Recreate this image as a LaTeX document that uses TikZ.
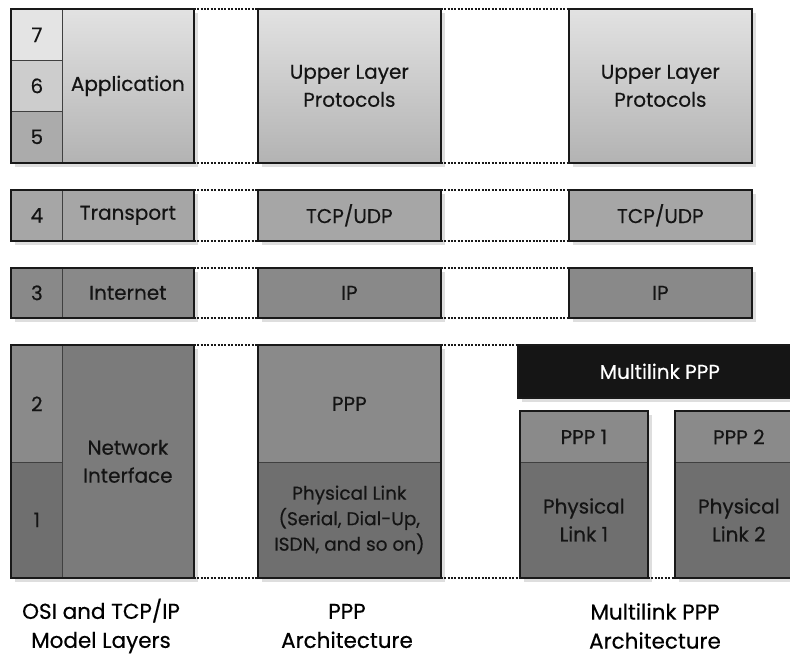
\documentclass[tikz,border=0pt]{standalone}
\usepackage{fontspec}
\setmainfont{Poppins}[FakeBold=0.4]
\usetikzlibrary{backgrounds}

\definecolor{layerA}{HTML}{E4E4E4}
\definecolor{layerB}{HTML}{CDCDCD}
\definecolor{layerC}{HTML}{ABABAB}
\definecolor{upperTop}{HTML}{E2E2E2}
\definecolor{upperBot}{HTML}{B3B3B3}
\definecolor{transFill}{HTML}{A6A6A6}
\definecolor{inetFill}{HTML}{898989}
\definecolor{linkFill}{HTML}{8A8A8A}
\definecolor{physFill}{HTML}{6F6F6F}
\definecolor{netFill}{HTML}{7B7B7B}
\definecolor{mlFill}{HTML}{151515}

\begin{document}
\begin{tikzpicture}[x=1pt,y=-1pt]
  \tikzset{cell/.style={draw=black!75,line width=0.7pt,anchor=north west,inner sep=0pt,align=center,
                        text=black!92,font=\fontsize{20}{28}\selectfont},
           upper/.style={cell,top color=upperTop,bottom color=upperBot},
           frame/.style={draw=black!90,line width=1.8pt},
           guide/.style={draw=black!90,line width=1.7pt,dash pattern=on 2pt off 1.4pt},
           caption/.style={align=center,text=black,font=\fontsize{21.5}{29}\selectfont}}

  \path[use as bounding box,clip] (0,0) rectangle (790,657);

  % OSI / TCP-IP column
  \node[cell,fill=layerA,minimum width=51pt,minimum height=51pt] (n7) at (11,9) {7};
  \node[cell,fill=layerB,minimum width=51pt,minimum height=51pt] (n6) at (11,60) {6};
  \node[cell,fill=layerC,minimum width=51pt,minimum height=51pt] (n5) at (11,111) {5};
  \node[upper,minimum width=131pt,minimum height=153pt] (app) at (62,9) {Application};
  \node[cell,fill=transFill,minimum width=51pt,minimum height=50pt] (n4) at (11,190) {4};
  \node[cell,fill=transFill,minimum width=131pt,minimum height=50pt] (trans) at (62,190) {Transport};
  \node[cell,fill=inetFill,minimum width=51pt,minimum height=49pt] (n3) at (11,268) {3};
  \node[cell,fill=inetFill,minimum width=131pt,minimum height=49pt] (inet) at (62,268) {Internet};
  \node[cell,fill=linkFill,minimum width=51pt,minimum height=117pt] (n2) at (11,345) {2};
  \node[cell,fill=physFill,minimum width=51pt,minimum height=115pt] (n1) at (11,462) {1};
  \node[cell,fill=netFill,minimum width=131pt,minimum height=232pt] (netif) at (62,345) {Network\\Interface};

  % PPP column
  \node[upper,minimum width=182pt,minimum height=153pt] (ulpA) at (258,9) {Upper Layer\\Protocols};
  \node[cell,fill=transFill,minimum width=182pt,minimum height=50pt] (tcpA) at (258,190) {TCP/UDP};
  \node[cell,fill=inetFill,minimum width=182pt,minimum height=49pt] (ipA) at (258,268) {IP};
  \node[cell,fill=linkFill,minimum width=182pt,minimum height=117pt] (pppA) at (258,345) {PPP};
  \node[cell,fill=physFill,minimum width=182pt,minimum height=115pt,
        font=\fontsize{18.5}{25.5}\selectfont] (physA) at (258,462) {Physical Link\\(Serial, Dial-Up,\\ISDN, and so on)};

  % Multilink PPP column
  \node[upper,minimum width=182pt,minimum height=153pt] (ulpB) at (569,9) {Upper Layer\\Protocols};
  \node[cell,fill=transFill,minimum width=182pt,minimum height=50pt] (tcpB) at (569,190) {TCP/UDP};
  \node[cell,fill=inetFill,minimum width=182pt,minimum height=49pt] (ipB) at (569,268) {IP};
  \node[cell,fill=mlFill,text=white,minimum width=283pt,minimum height=52pt] (mlppp) at (518,345) {Multilink PPP};
  \node[cell,fill=linkFill,minimum width=127pt,minimum height=51pt] (ppp1) at (520,411) {PPP 1};
  \node[cell,fill=physFill,minimum width=127pt,minimum height=115pt] (phys1) at (520,462) {Physical\\Link 1};
  \node[cell,fill=linkFill,minimum width=127pt,minimum height=51pt] (ppp2) at (675,411) {PPP 2};
  \node[cell,fill=physFill,minimum width=127pt,minimum height=115pt] (phys2) at (675,462) {Physical\\Link 2};

  % outer frames and their shadows
  \foreach \a/\b in {n7/app,n4/trans,n3/inet,n2/netif,ulpA/ulpA,tcpA/tcpA,ipA/ipA,pppA/physA,
                     ulpB/ulpB,tcpB/tcpB,ipB/ipB,mlppp/mlppp,ppp1/phys1,ppp2/phys2}{
    \draw[frame] (\a.north west) rectangle (\b.south east);
    \begin{scope}[on background layer]
      \fill[black!13] ([xshift=4pt,yshift=-4pt]\a.north west) rectangle ([xshift=4pt,yshift=-4pt]\b.south east);
    \end{scope}
  }

  % dotted guides between the columns
  \draw[guide] (app.north east) -- (ulpA.north west);
  \draw[guide] (app.south east) -- (ulpA.south west);
  \draw[guide] (trans.north east) -- (tcpA.north west);
  \draw[guide] (trans.south east) -- (tcpA.south west);
  \draw[guide] (inet.north east) -- (ipA.north west);
  \draw[guide] (inet.south east) -- (ipA.south west);
  \draw[guide] (netif.north east) -- (pppA.north west);
  \draw[guide] (netif.south east) -- (physA.south west);
  \draw[guide] (ulpA.north east) -- (ulpB.north west);
  \draw[guide] (ulpA.south east) -- (ulpB.south west);
  \draw[guide] (tcpA.north east) -- (tcpB.north west);
  \draw[guide] (tcpA.south east) -- (tcpB.south west);
  \draw[guide] (ipA.north east) -- (ipB.north west);
  \draw[guide] (ipA.south east) -- (ipB.south west);
  \draw[guide] (pppA.north east) -- (mlppp.north west);
  \draw[guide] (physA.south east) -- (phys1.south west);
  \draw[guide] (phys1.south east) -- (phys2.south west);

  % captions
  \node[caption] (osiCap) at (101,626) {OSI and TCP/IP\\Model Layers};
  \node[caption] (pppCap) at (347,626) {PPP\\Architecture};
  \node[caption] (mlCap) at (655,626) {Multilink PPP\\Architecture};
\end{tikzpicture}
\end{document}
